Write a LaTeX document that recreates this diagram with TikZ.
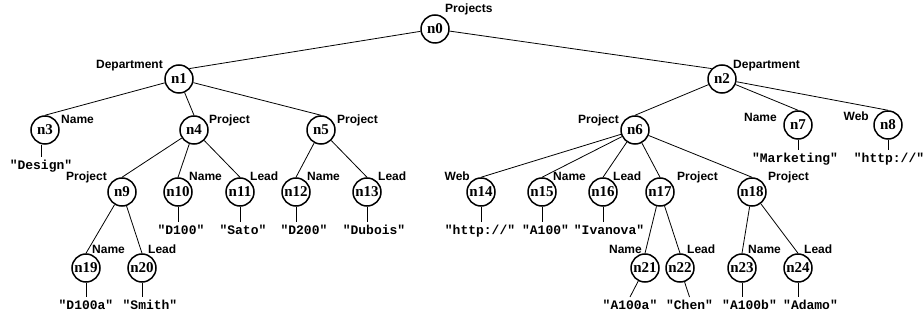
\documentclass[tikz,border=0pt]{standalone}
\usepackage{fontspec}
\setmainfont{Liberation Serif}
\newfontfamily\tagfont{Liberation Sans}
\newfontfamily\valfont{Liberation Mono}
\usetikzlibrary{calc}
\tikzset{
  elem/.style={circle,draw,line width=1.5pt,minimum size=28pt,inner sep=0pt,
    font=\fontsize{15}{15}\selectfont\bfseries},
  lbl/.style={inner sep=0pt,font=\tagfont\fontsize{12}{12}\selectfont\bfseries},
  lblR/.style={lbl,anchor=base west},
  lblL/.style={lbl,anchor=base east},
  txt/.style={anchor=north,inner sep=2.5pt,font=\valfont\fontsize{13}{13}\selectfont\bfseries},
  edge/.style={line width=0.8pt},
}
\begin{document}
\begin{tikzpicture}[x=1pt,y=1pt]
  \useasboundingbox (0,0) rectangle (923,-320);
  \clip (0,0) rectangle (923,-320);
  % element nodes
  \node[elem] (n0) at (435,-29) {n0};
  \node[elem] (n1) at (179,-79) {n1};
  \node[elem] (n2) at (722,-79) {n2};
  \node[elem] (n3) at (45,-130) {n3};
  \node[elem] (n4) at (194,-130) {n4};
  \node[elem] (n5) at (321,-130) {n5};
  \node[elem] (n6) at (635,-130) {n6};
  \node[elem] (n7) at (798,-125) {n7};
  \node[elem] (n8) at (888,-125) {n8};
  \node[elem] (n9) at (122,-192) {n9};
  \node[elem] (n10) at (178,-192) {n10};
  \node[elem] (n11) at (240,-192) {n11};
  \node[elem] (n12) at (296,-192) {n12};
  \node[elem] (n13) at (367,-192) {n13};
  \node[elem] (n14) at (481,-192) {n14};
  \node[elem] (n15) at (542,-192) {n15};
  \node[elem] (n16) at (603,-192) {n16};
  \node[elem] (n17) at (660,-192) {n17};
  \node[elem] (n18) at (752,-192) {n18};
  \node[elem] (n19) at (86,-268) {n19};
  \node[elem] (n20) at (142,-268) {n20};
  \node[elem] (n21) at (645,-268) {n21};
  \node[elem] (n22) at (680,-268) {n22};
  \node[elem] (n23) at (742,-268) {n23};
  \node[elem] (n24) at (798,-268) {n24};
  % tag names
  \node[lblR] (t0) at ($(n0)+(10,16.5)$) {Projects};
  \node[lblL] (t1) at ($(n1)+(-16,10)$) {Department};
  \node[lblR] (t2) at ($(n2)+(11,10)$) {Department};
  \node[lblR] (t3) at ($(n3)+(16,6)$) {Name};
  \node[lblR] (t4) at ($(n4)+(15,6.5)$) {Project};
  \node[lblR] (t5) at ($(n5)+(16,6.5)$) {Project};
  \node[lblL] (t6) at ($(n6)+(-16,6.5)$) {Project};
  \node[lblL] (t7) at ($(n7)+(-21,3)$) {Name};
  \node[lblL] (t8) at ($(n8)+(-19,4)$) {Web};
  \node[lblL] (t9) at ($(n9)+(-15,11)$) {Project};
  \node[lblR] (t10) at ($(n10)+(11,11)$) {Name};
  \node[lblR] (t11) at ($(n11)+(10,11)$) {Lead};
  \node[lblR] (t12) at ($(n12)+(11,11)$) {Name};
  \node[lblR] (t13) at ($(n13)+(11,11)$) {Lead};
  \node[lblL] (t14) at ($(n14)+(-11,11)$) {Web};
  \node[lblR] (t15) at ($(n15)+(11,11)$) {Name};
  \node[lblR] (t16) at ($(n16)+(10,11)$) {Lead};
  \node[lblR] (t17) at ($(n17)+(17,11)$) {Project};
  \node[lblR] (t18) at ($(n18)+(16,11)$) {Project};
  \node[lblR] (t19) at ($(n19)+(6,14.5)$) {Name};
  \node[lblR] (t20) at ($(n20)+(6,14.5)$) {Lead};
  \node[lblL] (t21) at ($(n21)+(-3,14.5)$) {Name};
  \node[lblR] (t22) at ($(n22)+(7,14.5)$) {Lead};
  \node[lblR] (t23) at ($(n23)+(6,14.5)$) {Name};
  \node[lblR] (t24) at ($(n24)+(6,14.5)$) {Lead};
  % text values
  \node[txt] (v3) at (41,-157) {"Design"};
  \node[txt] (v7) at (795,-150) {"Marketing"};
  \node[txt] (v8) at (889,-150) {"http://"};
  \node[txt] (v10) at (181,-222) {"D100"};
  \node[txt] (v11) at (243,-222) {"Sato"};
  \node[txt] (v12) at (304,-222) {"D200"};
  \node[txt] (v13) at (374,-222) {"Dubois"};
  \node[txt] (v14) at (480,-222) {"http://"};
  \node[txt] (v15) at (545.5,-222) {"A100"};
  \node[txt] (v16) at (609,-222) {"Ivanova"};
  \node[txt] (v19) at (86,-297) {"D100a"};
  \node[txt] (v20) at (150,-297) {"Smith"};
  \node[txt] (v21) at (630,-297) {"A100a"};
  \node[txt] (v22) at (689.5,-297) {"Chen"};
  \node[txt] (v23) at (749.5,-297) {"A100b"};
  \node[txt] (v24) at (810.5,-297) {"Adamo"};
  % edges
  \draw[edge] (n0) -- (n1.north east);
  \draw[edge] (n0) -- (n2.north west);
  \foreach \p/\c in {n1/n3, n1/n4, n1/n5, n2/n6, n2/n7, n2/n8,
                     n4/n9, n4/n10, n4/n11, n5/n12, n5/n13,
                     n6/n14, n6/n15, n6/n16, n6/n17, n6/n18,
                     n9/n19, n9/n20, n17/n21, n17/n22, n18/n23, n18/n24}
    \draw[edge] (\p) -- (\c.north);
  \draw[edge] (v3.north) -- (v3.north |- n3.south);
  \foreach \k in {7, 8, 10, 11, 12, 13, 14, 15, 16, 19, 20, 23, 24}
    \draw[edge] (n\k) -- (n\k |- v\k.north);
  \draw[edge] (n21) -- (v21.north);
  \draw[edge] (n22) -- (v22.north);
\end{tikzpicture}
\end{document}
